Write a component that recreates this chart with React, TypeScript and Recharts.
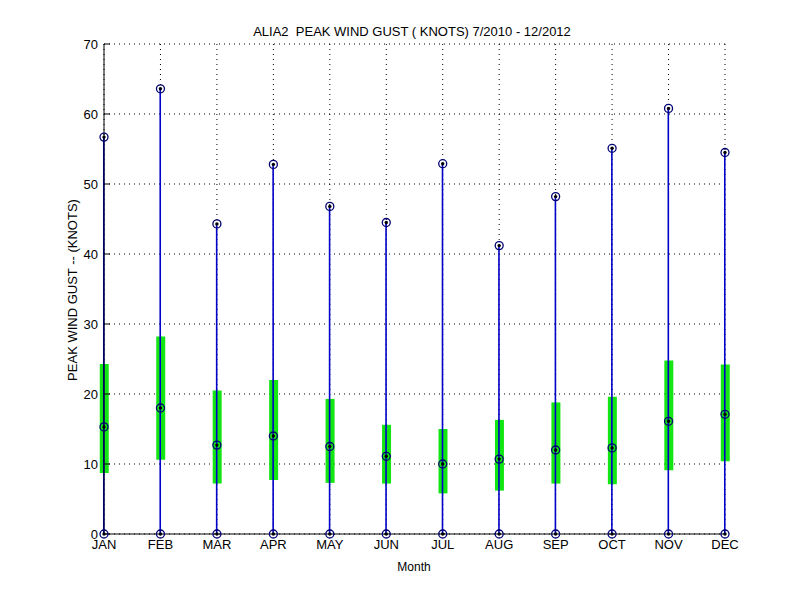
import React from 'react';
import { ComposedChart, XAxis, YAxis, CartesianGrid, Bar, Scatter } from 'recharts';

const months = ['JAN', 'FEB', 'MAR', 'APR', 'MAY', 'JUN', 'JUL', 'AUG', 'SEP', 'OCT', 'NOV', 'DEC'];
const maxVals = [56.7, 63.6, 44.3, 52.8, 46.8, 44.5, 52.9, 41.2, 48.2, 55.1, 60.8, 54.5];
const q3Vals = [24.3, 28.2, 20.5, 22.0, 19.3, 15.6, 15.0, 16.3, 18.8, 19.6, 24.8, 24.2];
const medVals = [15.3, 18.0, 12.7, 14.0, 12.5, 11.1, 10.0, 10.7, 12.0, 12.3, 16.1, 17.1];
const q1Vals = [8.7, 10.6, 7.2, 7.7, 7.3, 7.2, 5.8, 6.2, 7.2, 7.1, 9.1, 10.4];
const minVals = [0, 0, 0, 0, 0, 0, 0, 0, 0, 0, 0, 0];
const yTicks = [0, 10, 20, 30, 40, 50, 60, 70];

const data = months.map((m, i) => ({
  x: i + 1,
  name: m,
  whisker: [minVals[i], maxVals[i]],
  box: [q1Vals[i], q3Vals[i]],
  min: minVals[i],
  med: medVals[i],
  max: maxVals[i],
}));

const FONT = '"Liberation Sans", Arial, sans-serif';

const Marker = (props: any) => {
  const { cx, cy } = props;
  if (cx == null || cy == null) return null;
  return (
    <g>
      <circle cx={cx} cy={cy} r={4} fill="none" stroke="#000070" strokeWidth={1.3} />
      <circle cx={cx} cy={cy} r={1.7} fill="#000000" />
    </g>
  );
};

const WhiskerShape = (props: any) => {
  const { x, y, width, height } = props;
  if (x == null || y == null) return null;
  const cx = x + width / 2;
  return <line x1={cx} x2={cx} y1={y} y2={y + height} stroke="#0000c8" strokeWidth={1.6} />;
};

export default function App() {
  return (
    <ComposedChart
      width={800}
      height={600}
      data={data}
      margin={{ top: 36, right: 83, bottom: 44, left: 0 }}
      style={{ fontFamily: FONT }}
    >
      <CartesianGrid stroke="#000" strokeDasharray="1 4" />
      <XAxis
        dataKey="x"
        type="number"
        domain={[1, 12]}
        ticks={[1, 2, 3, 4, 5, 6, 7, 8, 9, 10, 11, 12]}
        tickFormatter={(v: number) => months[v - 1]}
        height={30}
        tickLine={false}
        tickSize={0}
        tickMargin={6}
        axisLine={{ stroke: '#000' }}
        tick={{ fill: '#000', fontSize: 13, fontFamily: FONT }}
      />
      <XAxis xAxisId="w" dataKey="x" type="number" domain={[1, 12]} hide />
      <YAxis
        type="number"
        domain={[0, 70]}
        ticks={yTicks}
        width={96}
        tickSize={-6}
        tickMargin={12}
        axisLine={{ stroke: '#000' }}
        tickLine={{ stroke: '#000' }}
        tick={{ fill: '#000', fontSize: 13, fontFamily: FONT }}
      />
      <Bar xAxisId="w" dataKey="box" barSize={9} fill="#14e614" isAnimationActive={false} />
      <Bar dataKey="whisker" barSize={2} shape={<WhiskerShape />} isAnimationActive={false} />
      <Scatter dataKey="min" shape={<Marker />} isAnimationActive={false} />
      <Scatter dataKey="med" shape={<Marker />} isAnimationActive={false} />
      <Scatter dataKey="max" shape={<Marker />} isAnimationActive={false} />
      <text x={404} y={28} textAnchor="middle" fontSize={13} fontFamily={FONT} fill="#000" style={{ whiteSpace: 'pre' }}>
        {'ALIA2  PEAK WIND GUST ( KNOTS) 7/2010 - 12/2012'}
      </text>
      <text x={406} y={563} textAnchor="middle" fontSize={12} fontFamily={FONT} fill="#000">
        Month
      </text>
      <text
        x={0}
        y={0}
        transform="translate(69 282) rotate(-90)"
        textAnchor="middle"
        fontSize={13}
        fontFamily={FONT}
        fill="#000"
      >
        PEAK WIND GUST -- (KNOTS)
      </text>
    </ComposedChart>
  );
}
